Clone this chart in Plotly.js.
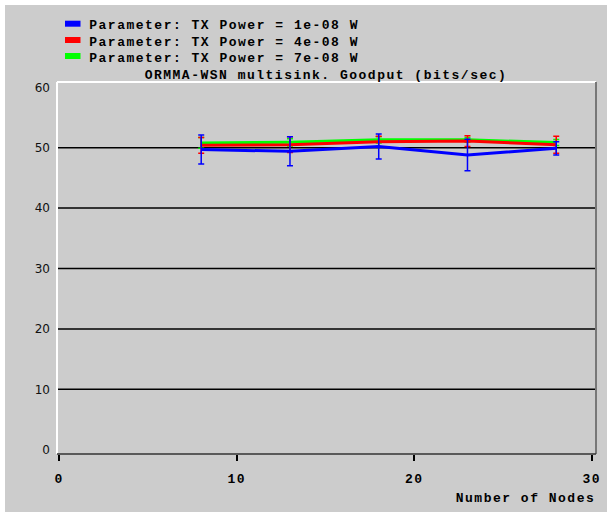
<!DOCTYPE html>
<html>
<head>
<meta charset="utf-8">
<script src="https://cdn.plot.ly/plotly-3.0.1.min.js"></script>
<style>
  html, body { margin: 0; padding: 0; background: #ffffff; }
  #panel { position: absolute; left: 5px; top: 5px; width: 602px; height: 507px; background: #cccccc; }
  #chart { width: 602px; height: 507px; }
  /* wide typewriter-style text */
  #chart .annotation-text, #chart .xtick text, #chart .gtitle { letter-spacing: 1.5px; }
</style>
</head>
<body>
<div id="panel"><div id="chart"></div></div>
<script>
// Goodput vs. number of nodes for three transmit powers
const nodes = [8, 13, 18, 23, 28];

const seriesNames = [
  'Parameter: TX Power = 1e-08 W',
  'Parameter: TX Power = 4e-08 W',
  'Parameter: TX Power = 7e-08 W'
];
const seriesColors = ['#0000ff', '#ff0000', '#00ff00'];

const goodput1e8 = [49.7, 49.4, 50.2, 48.8, 49.9];
const err1e8     = [2.4, 2.4, 2.05, 2.6, 1.1];

const goodput4e8 = [50.4, 50.5, 51.0, 51.1, 50.5];
const err4e8     = [1.3, 1.3, 0.9, 0.9, 1.4];

const goodput7e8 = [50.8, 50.9, 51.3, 51.3, 50.85];
const err7e8     = [0.9, 0.6, 0.5, 0.4, 0.5];

const xTicks = [0, 10, 20, 30];
const yTicks = [0, 10, 20, 30, 40, 50, 60];
const gridLevels = [10, 20, 30, 40, 50];

const chartTitle = 'ORMMA-WSN multisink. Goodput (bits/sec)';
const xTitle = 'Number of Nodes';

// plot-area geometry in pixels inside the chart div
const PL = 52, PT = 77, PW = 539, PH = 372;
const W = 602, H = 507;
const px = x => (x - PL) / PW;
const py = y => 1 - (y - PT) / PH;

const mono = 'Liberation Mono, DejaVu Sans Mono, monospace';
const monoFont = { family: mono, size: 13, color: '#000000', weight: 'bold' };
const CHAR_W = 9.3; // advance of one monospace character incl. letter spacing

function series(y, err, idx) {
  return {
    type: 'scatter', mode: 'lines',
    x: nodes, y: y, name: seriesNames[idx],
    line: { color: seriesColors[idx], width: 3 },
    error_y: { type: 'data', array: err, visible: true, color: seriesColors[idx], thickness: 1.5, width: 3 },
    showlegend: false, hoverinfo: 'skip'
  };
}

// draw order: green underneath, blue on top
const data = [
  series(goodput7e8, err7e8, 2),
  series(goodput4e8, err4e8, 1),
  series(goodput1e8, err1e8, 0)
];

const shapes = [];
gridLevels.forEach(v => shapes.push({
  type: 'line', xref: 'paper', yref: 'y', x0: 0, x1: 1, y0: v, y1: v,
  line: { color: '#000000', width: 1.5 }, layer: 'below'
}));
// bevelled frame around the plot area
shapes.push({ type: 'line', xref: 'paper', yref: 'paper', x0: 0, x1: 1, y0: 1, y1: 1, line: { color: '#ffffff', width: 2 } });
shapes.push({ type: 'line', xref: 'paper', yref: 'paper', x0: 0, x1: 0, y0: 0, y1: 1, line: { color: '#ffffff', width: 2 } });
shapes.push({ type: 'line', xref: 'paper', yref: 'paper', x0: 1, x1: 1, y0: 0, y1: 1, line: { color: '#777777', width: 2 } });
shapes.push({ type: 'line', xref: 'paper', yref: 'paper', x0: 0, x1: 1, y0: 0, y1: 0, line: { color: '#333333', width: 1.5 } });

// legend: colour swatches and labels (texts are centred so the letter spacing stays balanced)
const legendRows = [21, 37.3, 53.3];
const legendTextLeft = 84.6;
const annotations = [];
seriesNames.forEach((name, i) => {
  const cy = legendRows[i];
  shapes.push({
    type: 'rect', xref: 'paper', yref: 'paper',
    x0: px(60), x1: px(75.5), y0: py(cy - 5.3), y1: py(cy + 0.7),
    fillcolor: seriesColors[i], line: { width: 0 }
  });
  annotations.push({
    xref: 'paper', yref: 'paper', x: px(legendTextLeft + name.length * CHAR_W / 2), y: py(cy),
    xanchor: 'center', yanchor: 'middle', showarrow: false,
    text: name, font: monoFont
  });
});
annotations.push({
  xref: 'paper', yref: 'paper', x: px(590 - xTitle.length * CHAR_W / 2), y: py(493.3),
  xanchor: 'center', yanchor: 'middle', showarrow: false,
  text: xTitle, font: monoFont
});

const layout = {
  width: W, height: H,
  paper_bgcolor: '#cccccc', plot_bgcolor: '#cccccc',
  margin: { l: PL, t: PT, r: W - PL - PW, b: H - PT - PH, pad: 0 },
  title: {
    text: chartTitle, xref: 'container', yref: 'container',
    x: 321 / W, y: 1 - 69 / H, xanchor: 'center', yanchor: 'middle',
    font: monoFont
  },
  xaxis: {
    range: [-0.124, 30.24], tickvals: xTicks, ticktext: xTicks.map(String),
    ticks: 'outside', ticklen: 6, tickwidth: 2, tickcolor: '#000000',
    showgrid: false, zeroline: false, showline: false,
    tickfont: monoFont, ticklabelstandoff: 6
  },
  yaxis: {
    range: [-0.71, 60.88], tickvals: yTicks, ticktext: yTicks.map(String),
    ticks: '', showgrid: false, zeroline: false, showline: false,
    tickfont: { family: 'DejaVu Sans, sans-serif', size: 12, color: '#111111' },
    ticklabelstandoff: 6
  },
  shapes: shapes,
  annotations: annotations,
  showlegend: false
};

Plotly.newPlot('chart', data, layout, { staticPlot: true, displayModeBar: false });
</script>
</body>
</html>
